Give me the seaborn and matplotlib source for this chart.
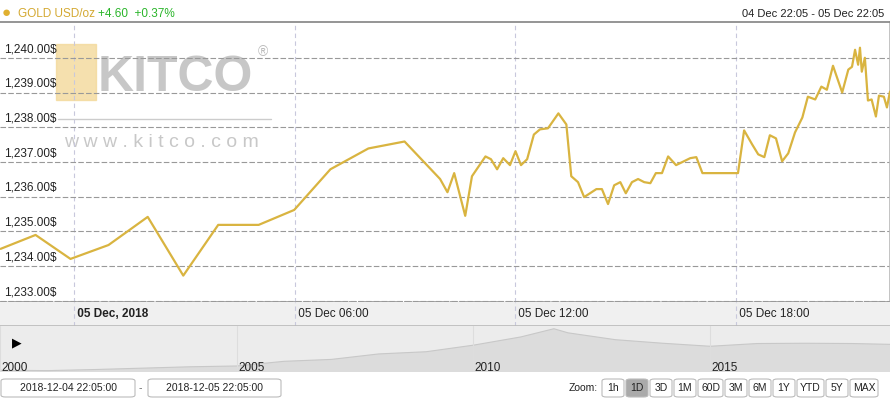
import matplotlib
matplotlib.use("Agg")
import matplotlib.pyplot as plt
from matplotlib.patches import Rectangle, FancyBboxPatch
import seaborn as sns
import pandas as pd

sns.set_theme(style="white")
plt.rcParams['font.family'] = ['Liberation Sans', 'DejaVu Sans']

times = ["2018-12-04 22:00", "2018-12-04 22:57", "2018-12-04 23:54", "00:56", "02:00", "02:58", "03:55",
         "05:01", "05:59", "06:58", "08:00", "08:59", "09:57", "10:09", "10:20", "10:38", "10:49",
         "11:11", "11:20", "11:30", "11:40", "11:51", "12:00", "12:09", "12:19", "12:30", "12:40",
         "12:53", "13:10", "13:23", "13:31", "13:42", "13:52", "14:12", "14:21", "14:31", "14:41",
         "14:51", "15:00", "15:10", "15:20", "15:30", "15:40", "15:49", "15:59", "16:09", "16:22",
         "16:45", "16:55", "17:05", "18:03", "18:13", "18:26", "18:36", "18:46", "18:55", "19:05",
         "19:15", "19:25", "19:36", "19:48", "19:57", "20:09", "20:19", "20:28", "20:38", "20:53",
         "21:03", "21:09", "21:14", "21:19", "21:22", "21:25", "21:30", "21:35", "21:41", "21:48",
         "21:53", "22:01", "22:06", "22:11"]
prices = [1234.50, 1234.90, 1234.21, 1234.61, 1235.42, 1233.73, 1235.19,
          1235.19, 1235.62, 1236.79, 1237.39, 1237.59, 1236.51, 1236.13, 1236.68, 1235.45, 1236.59,
          1237.16, 1237.08, 1236.79, 1237.11, 1236.91, 1237.31, 1236.91, 1237.08, 1237.79, 1237.94,
          1237.97, 1238.40, 1238.08, 1236.59, 1236.42, 1235.99, 1236.22, 1236.22, 1235.79, 1236.33,
          1236.42, 1236.10, 1236.42, 1236.51, 1236.42, 1236.39, 1236.68, 1236.68, 1237.16, 1236.91,
          1237.11, 1237.14, 1236.68, 1236.68, 1237.91, 1237.51, 1237.22, 1237.14, 1237.77, 1237.68,
          1237.02, 1237.25, 1237.85, 1238.28, 1238.88, 1238.80, 1239.17, 1239.08, 1239.77, 1239.00,
          1239.66, 1239.74, 1240.23, 1239.80, 1240.29, 1239.60, 1240.00, 1238.77, 1238.80, 1238.31,
          1238.91, 1238.88, 1238.57, 1239.03]

nav_years = [2000, 2001, 2002, 2003, 2004, 2005, 2006, 2007, 2008, 2009, 2010, 2011, 2011.7,
             2012, 2013, 2014, 2015, 2016, 2017, 2018, 2018.8]
nav_prices = [285, 270, 310, 360, 410, 440, 610, 680, 880, 960, 1200, 1500, 1800,
              1650, 1400, 1270, 1160, 1260, 1270, 1260, 1230]

y_ticks = [1233, 1234, 1235, 1236, 1237, 1238, 1239, 1240]
x_tick_labels = ["05 Dec, 2018", "05 Dec 06:00", "05 Dec 12:00", "05 Dec 18:00"]
x_tick_times = ["2018-12-05 00:00", "2018-12-05 06:00", "2018-12-05 12:00", "2018-12-05 18:00"]
nav_tick_years = [2000, 2005, 2010, 2015]
zoom_buttons = ["1h", "1D", "3D", "1M", "60D", "3M", "6M", "1Y", "YTD", "5Y", "MAX"]

ts = [pd.Timestamp(t) if t.startswith("2018") else pd.Timestamp("2018-12-05 " + t) for t in times]
df = pd.DataFrame({"time": ts, "price": prices})

GOLD = "#d9b440"
fig = plt.figure(figsize=(8.9, 4.0), dpi=100)

ax = fig.add_axes([0, 0.245, 1, 0.70])
xmin, xmax = pd.Timestamp("2018-12-04 21:59"), pd.Timestamp("2018-12-05 22:11")
# watermark
ax.add_patch(Rectangle((0.063, 0.72), 0.045, 0.20, transform=ax.transAxes, color="#f3d99a", alpha=0.8, zorder=0))
ax.text(0.11, 0.80, "KITCO", transform=ax.transAxes, fontsize=36, fontweight="bold", color="#b0b0b0", alpha=0.7, va="center", zorder=0)
ax.text(0.29, 0.88, "®", transform=ax.transAxes, fontsize=10, color="#bbbbbb", zorder=0)
ax.plot([0.065, 0.305], [0.655, 0.655], transform=ax.transAxes, color="#cccccc", lw=1, zorder=0)
ax.text(0.072, 0.57, "w w w . k i t c o . c o m", transform=ax.transAxes, fontsize=14, color="#c8c8c8", va="center", zorder=0)

sns.lineplot(data=df, x="time", y="price", ax=ax, color=GOLD, lw=1.6, zorder=3)
ax.set_xlim(xmin, xmax)
ax.set_ylim(1232.97, 1241.03)
ax.set_yticks(y_ticks)
ax.set_yticklabels([])
ax.set_xticks([pd.Timestamp(t) for t in x_tick_times])
ax.set_xticklabels([])
ax.tick_params(length=0)
ax.grid(axis="y", color="#999999", ls=(0, (5, 2)), lw=0.8)
ax.grid(axis="x", color="#c8c8dc", ls=(0, (4, 3)), lw=0.8)
for v in y_ticks:
    ax.annotate(f"{v:,.2f}$", (0, v), xycoords=("axes fraction", "data"), xytext=(3, 2),
                textcoords="offset points", fontsize=8.5, color="#222222", va="bottom")
for s in ax.spines.values():
    s.set_visible(False)
ax.spines["top"].set_visible(True); ax.spines["top"].set_color("#888888")
ax.spines["bottom"].set_visible(True); ax.spines["bottom"].set_color("#999999"); ax.spines["bottom"].set_linestyle("--")
ax.spines["right"].set_visible(True); ax.spines["right"].set_color("#bbbbbb")
ax.set_xlabel(""); ax.set_ylabel("")

# x label band
lb = fig.add_axes([0, 0.185, 1, 0.06])
lb.set_facecolor("#f0f0f0")
lb.set_xlim(xmin, xmax); lb.set_ylim(0, 1)
for t, lab in zip(x_tick_times, x_tick_labels):
    tt = pd.Timestamp(t)
    lb.axvline(tt, color="#c8c8dc", ls=(0, (4, 3)), lw=0.8)
    lb.text(tt, 0.5, " " + lab, fontsize=8.5, va="center", ha="left",
            fontweight="bold" if "2018" in lab else "normal", color="#222222")
lb.set_xticks([]); lb.set_yticks([])
for s in lb.spines.values():
    s.set_visible(False)
lb.spines["bottom"].set_visible(True); lb.spines["bottom"].set_color("#bbbbbb")

# navigator
nv = fig.add_axes([0, 0.07, 1, 0.115])
nv.set_facecolor("#ececec")
nv.fill_between(nav_years, nav_prices, 0, color="#dcdcdc", lw=0)
nv.plot(nav_years, nav_prices, color="#c8c8c8", lw=0.8)
nv.set_xlim(2000, 2018.8); nv.set_ylim(220, 1900)
for yr in nav_tick_years:
    nv.axvline(yr, color="#dddddd", lw=0.8)
    nv.text(yr + 0.03, 150, str(yr), fontsize=8.5, color="#222222", va="bottom")
nv.text(2000.25, 1250, "▶", fontsize=9, color="black", va="center")
nv.set_xticks([]); nv.set_yticks([])
for s in nv.spines.values():
    s.set_visible(False)

# header
fig.text(0.002, 0.967, "●", fontsize=11, color="#e0b030", va="center")
fig.text(0.020, 0.965, "GOLD USD/oz", fontsize=8.5, color="#d4a932", va="center")
fig.text(0.110, 0.965, "+4.60  +0.37%", fontsize=8.5, color="#2ab52a", va="center")
fig.text(0.993, 0.965, "04 Dec 22:05 - 05 Dec 22:05", fontsize=8, color="#222222", va="center", ha="right")

# range inputs
def box(x0, w, label, fc="white", ec="#bbbbbb"):
    fig.patches.append(FancyBboxPatch((x0 / 890, 0.0075), w / 890, 0.045, boxstyle="round,pad=0,rounding_size=0.005",
                                      transform=fig.transFigure, fc=fc, ec=ec, lw=0.8))
    fig.text((x0 + w / 2) / 890, 0.03, label, fontsize=7.5, ha="center", va="center", color="#222222")

box(1, 134, "2018-12-04 22:05:00")
fig.text(140 / 890, 0.03, "-", fontsize=7.5, ha="center", va="center", color="#666666")
box(148, 133, "2018-12-05 22:05:00")
fig.text(598 / 890, 0.03, "Zoom:", fontsize=7.5, ha="right", va="center", color="#222222")
widths = [22, 22, 22, 22, 25, 22, 22, 22, 27, 22, 28]
x0 = 602
for lab, w in zip(zoom_buttons, widths):
    box(x0, w, lab, fc="#aaaaaa" if lab == "1D" else "white")
    x0 += w + 2

fig.savefig("out.png", dpi=100, facecolor="white")
